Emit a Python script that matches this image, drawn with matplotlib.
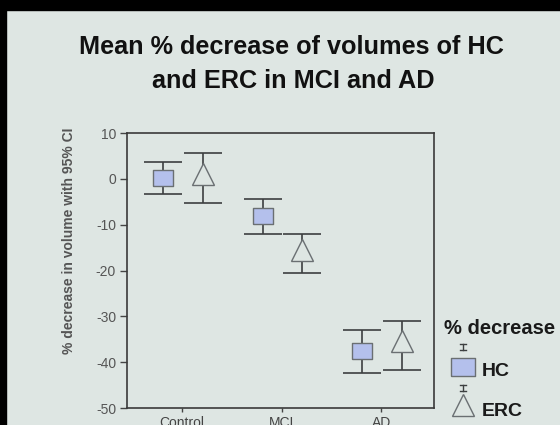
import matplotlib.pyplot as plt
from matplotlib.patches import Rectangle
import numpy as np

plt.rcParams['font.family'] = ['Liberation Sans', 'DejaVu Sans']

groups = ['Control', 'MCI', 'AD']
hc_mean = [0.2, -8.0, -37.6]
hc_low = [-3.3, -12.1, -42.3]
hc_high = [3.6, -4.4, -33.0]
erc_mean = [1.0, -15.6, -35.4]
erc_low = [-5.3, -20.5, -41.8]
erc_high = [5.7, -12.1, -31.1]
yticks = [10, 0, -10, -20, -30, -40, -50]

bg = '#dee6e3'
sq_fill = '#b4c0ec'
edge = '#6a6f72'
bar_col = '#3c3f40'
rect_marker = [(-1, -0.8), (1, -0.8), (1, 0.8), (-1, 0.8), (-1, -0.8)]

fig = plt.figure(figsize=(5.6, 4.25), dpi=100)
fig.patch.set_facecolor(bg)

ax = fig.add_axes([0.227, 0.040, 0.548, 0.647])
ax.set_facecolor(bg)
x = np.arange(len(groups))

def draw(xpos, mean, low, high, marker, fill, ms):
    mean = np.array(mean)
    yerr = [mean - np.array(low), np.array(high) - mean]
    ax.errorbar(xpos, mean, yerr=yerr, fmt='none', ecolor=bar_col,
                elinewidth=1.2, capsize=14, capthick=1.2, zorder=2)
    ax.plot(xpos, mean, linestyle='none', marker=marker, markersize=ms,
            markerfacecolor=fill, markeredgecolor=edge, markeredgewidth=1.0,
            zorder=3)

draw(x - 0.19, hc_mean, hc_low, hc_high, rect_marker, sq_fill, 15)
draw(x + 0.21, erc_mean, erc_low, erc_high, '^', bg, 16)

ax.set_xlim(-0.55, 2.53)
ax.set_ylim(-50, 10)
ax.set_yticks(yticks)
ax.set_yticklabels([str(v) for v in yticks])
ax.set_xticks(x)
ax.set_xticklabels(groups)
ax.tick_params(axis='y', length=5, width=1, colors='#444', labelsize=10,
               labelcolor='#555', pad=3)
ax.tick_params(axis='x', length=3, width=1, colors='#444', labelsize=10,
               labelcolor='#444', pad=3)
for s in ax.spines.values():
    s.set_color('#3a3a3a')
    s.set_linewidth(1.2)
ax.set_ylabel('% decrease in volume with 95% CI', fontsize=10,
              fontweight='bold', color='#555')
ax.yaxis.set_label_coords(-0.168, 0.607)

# overlay in pixel coordinates for title, legend and slide frame
ov = fig.add_axes([0, 0, 1, 1], zorder=5)
ov.set_xlim(0, 560)
ov.set_ylim(425, 0)
ov.axis('off')
ov.patch.set_alpha(0)
ov.add_patch(Rectangle((0, 0), 560, 10, color='black'))
ov.add_patch(Rectangle((0, 0), 6, 425, color='black'))

ov.text(291, 47, 'Mean % decrease of volumes of HC', ha='center', va='center',
        fontsize=18.2, fontweight='bold', color='#111')
ov.text(293, 81, 'and ERC in MCI and AD', ha='center', va='center',
        fontsize=18.2, fontweight='bold', color='#111')

ov.text(444, 329, '% decrease', ha='left', va='center', fontsize=14.5,
        fontweight='bold', color='#1a1a1a')
for yy in [347, 388]:
    ov.plot([463, 463], [yy - 3, yy + 3], color=bar_col, lw=1)
    ov.plot([460, 466], [yy - 3, yy - 3], color=bar_col, lw=1)
    ov.plot([460, 466], [yy + 3, yy + 3], color=bar_col, lw=1)
ov.plot(463, 367, marker=rect_marker, markersize=17, markerfacecolor=sq_fill,
        markeredgecolor=edge, markeredgewidth=1.0)
ov.plot(463, 405, marker='^', markersize=16, markerfacecolor=bg,
        markeredgecolor=edge, markeredgewidth=1.0)
ov.text(482, 372, 'HC', ha='left', va='center', fontsize=14,
        fontweight='bold', color='#1a1a1a')
ov.text(482, 411, 'ERC', ha='left', va='center', fontsize=14,
        fontweight='bold', color='#1a1a1a')

fig.savefig('out.png', dpi=100, facecolor=bg)
